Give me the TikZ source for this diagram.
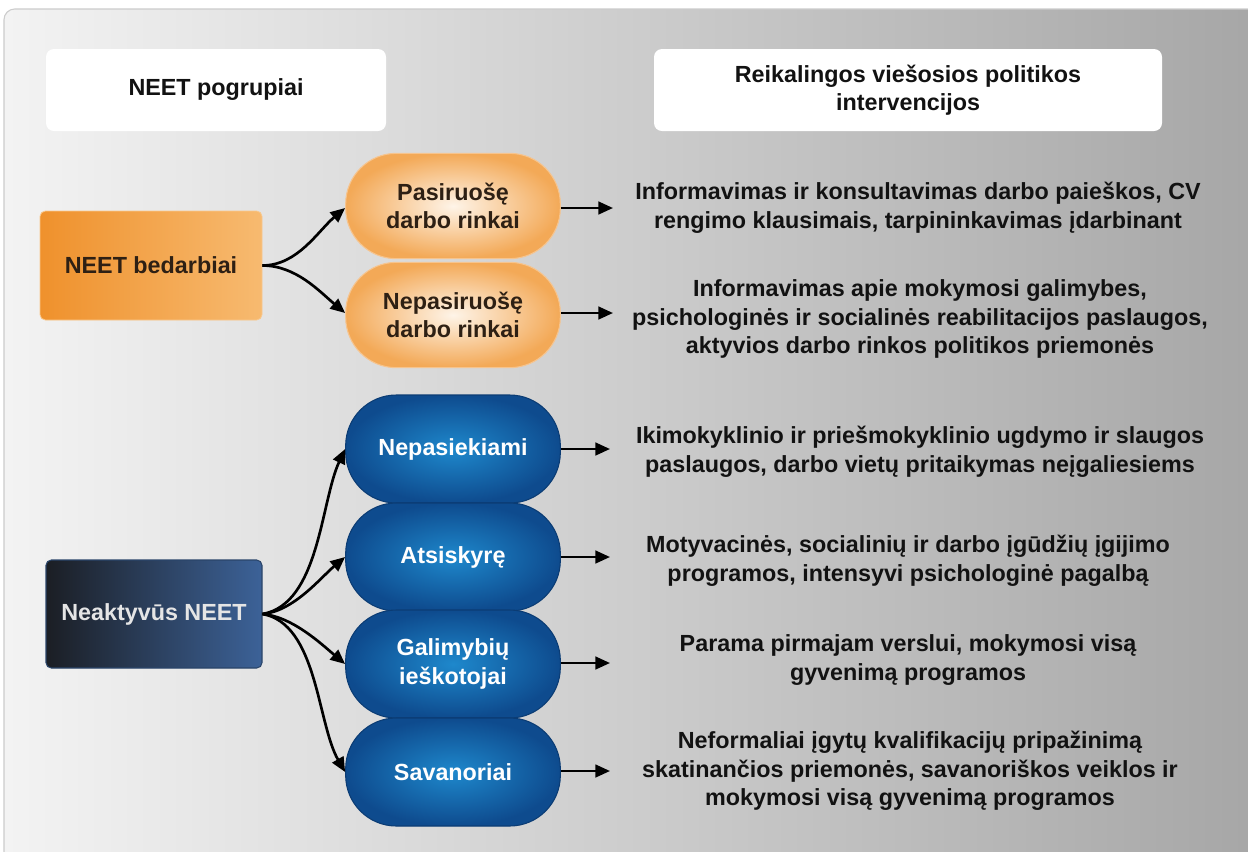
\documentclass[tikz,border=0pt]{standalone}
\usepackage{fontspec}
\setmainfont{Liberation Sans}
\usetikzlibrary{arrows.meta}
\definecolor{bgL}{HTML}{F3F3F3}
\definecolor{bgR}{HTML}{A6A6A6}
\definecolor{orA}{HTML}{EF912C}
\definecolor{orB}{HTML}{F7BA70}
\definecolor{opIn}{HTML}{FEF4E8}
\definecolor{opOut}{HTML}{F3A957}
\definecolor{opEdge}{HTML}{F6C48E}
\definecolor{bpIn}{HTML}{1E88CC}
\definecolor{bpOut}{HTML}{0E4B8E}
\definecolor{bpEdge}{HTML}{0B3C74}
\definecolor{naL}{HTML}{1B1E24}
\definecolor{naR}{HTML}{3C6298}
\definecolor{txt}{HTML}{121212}
\definecolor{brn}{HTML}{2E2014}
\begin{document}
\begin{tikzpicture}[x=0.75pt,y=-0.75pt,
  every node/.style={font=\fontsize{17.5}{21.4}\selectfont\bfseries, inner sep=0pt},
  headbox/.style={fill=white, rounded corners=6pt, minimum height=61.5pt, text=txt, align=center},
  orbox/.style={left color=orA, right color=orB, draw=orB!80!white, line width=0.6pt, rounded corners=4pt, minimum width=166.5pt, minimum height=81.75pt, text=brn},
  orpill/.style={inner color=opIn, outer color=opOut, draw=opEdge, line width=0.8pt, rounded corners=38pt, minimum width=161pt, minimum height=79pt, text=brn, align=center},
  bluepill/.style={inner color=bpIn, outer color=bpOut, draw=bpEdge, line width=0.8pt, rounded corners=38pt, minimum width=161pt, minimum height=81pt, text=white, align=center},
  nabox/.style={left color=naL, right color=naR, draw=naR!70!black, line width=0.8pt, rounded corners=4pt, minimum width=162pt, minimum height=81pt, text=white!90!black},
  rtext/.style={text=txt, align=center},
  fan/.style={line width=2pt, -{Triangle[length=11pt,width=9.5pt]}},
  outarrow/.style={line width=1.9pt, -{Triangle[length=11pt,width=9.5pt]}}
]
\useasboundingbox (0,0) rectangle (1248,851);
\fill[white] (0,0) rectangle (1248,851);
\shade[left color=bgL, right color=bgR, rounded corners=8pt] (4,9) rectangle (1262,864);
\draw[black!20, line width=0.8pt, rounded corners=8pt] (1262,9) -- (4,9) -- (4,864);

% headers
\node[headbox, minimum width=255pt] (h1) at (216,90) {NEET pogrupiai};
\node[headbox, minimum width=381pt] (h2) at (908,90) {Reikalingos viešosios politikos\\intervencijos};

% unemployed
\node[orbox] (nb) at (151,265.5) {NEET bedarbiai};
\node[orpill] (p1) at (453,206) {Pasiruošę\\darbo rinkai};
\node[orpill] (p2) at (453,315) {Nepasiruošę\\darbo rinkai};

% inactive
\node[nabox] (na) at (154,614) {Neaktyvūs NEET};
\node[bluepill] (b1) at (453,449) {Nepasiekiami};
\node[bluepill] (b2) at (453,557) {Atsiskyrę};
\node[bluepill] (b3) at (453,664) {Galimybių\\ieškotojai};
\node[bluepill] (b4) at (453,772) {Savanoriai};

% right texts
\node[rtext] (t1) at (918,208) {Informavimas ir konsultavimas darbo paieškos, CV\\rengimo klausimais, tarpininkavimas įdarbinant};
\node[rtext] (t2) at (920,319) {Informavimas apie mokymosi galimybes,\\psichologinės ir socialinės reabilitacijos paslaugos,\\aktyvios darbo rinkos politikos priemonės};
\node[rtext] (t3) at (920,452) {Ikimokyklinio ir priešmokyklinio ugdymo ir slaugos\\paslaugos, darbo vietų pritaikymas neįgaliesiems};
\node[rtext] (t4) at (908,561) {Motyvacinės, socialinių ir darbo įgūdžių įgijimo\\programos, intensyvi psichologinė pagalbą};
\node[rtext] (t5) at (908,660) {Parama pirmajam verslui, mokymosi visą\\gyvenimą programos};
\node[rtext] (t6) at (910,771) {Neformaliai įgytų kvalifikacijų pripažinimą\\skatinančios priemonės, savanoriškos veiklos ir\\mokymosi visą gyvenimą programos};

% fan arrows
\draw[fan] (nb.east) to[out=0, in=220, looseness=0.9] (p1.west |- 0,208);
\draw[fan] (nb.east) to[out=0, in=140, looseness=0.9] (p2.west |- 0,313);
\draw[fan] (na.east) to[out=10, in=245, looseness=0.8] (b1.west);
\draw[fan] (na.east) to[out=5, in=220, looseness=0.8] (b2.west);
\draw[fan] (na.east) to[out=-5, in=140, looseness=0.8] (b3.west);
\draw[fan] (na.east) to[out=-10, in=120, looseness=0.8] (b4.west);

% output arrows
\coordinate (e1) at (613,208);
\coordinate (e2) at (613,313);
\coordinate (e3) at (610,449);
\coordinate (e4) at (610,557);
\coordinate (e5) at (610,663);
\coordinate (e6) at (610,771);
\draw[outarrow] (p1.east |- e1) -- (e1);
\draw[outarrow] (p2.east |- e2) -- (e2);
\draw[outarrow] (b1.east |- e3) -- (e3);
\draw[outarrow] (b2.east |- e4) -- (e4);
\draw[outarrow] (b3.east |- e5) -- (e5);
\draw[outarrow] (b4.east |- e6) -- (e6);
\end{tikzpicture}
\end{document}
